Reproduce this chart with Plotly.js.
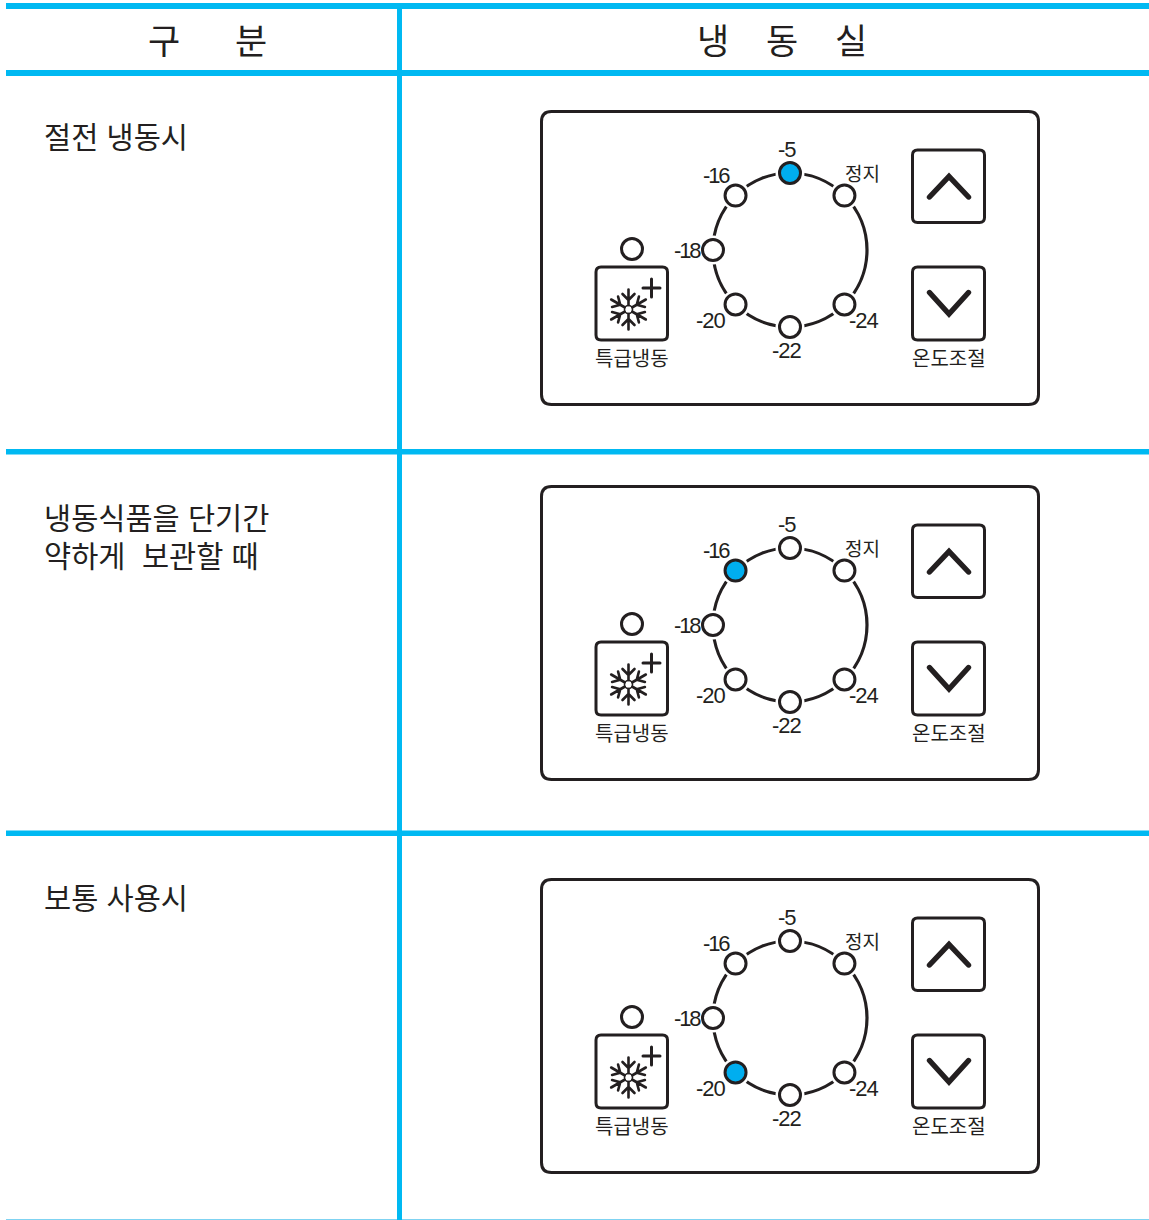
<!DOCTYPE html>
<html lang="ko"><head><meta charset="utf-8">
<script src="https://cdn.plot.ly/plotly-3.0.1.min.js"></script>
<style>html,body{margin:0;padding:0;background:#fff}#p{width:1149px;height:1220px}
.shapelayer path{stroke-linecap:round;stroke-linejoin:miter}</style></head>
<body><div id="p"></div>
<script>
// ---- content ----
const headerChars = ['구', '분', '냉', '동', '실'];
const headerX = [164, 251, 713, 782, 851];
const rowLabels = ['절전 냉동시', '냉동식품을 단기간<br>약하게  보관할 때', '보통 사용시'];
const rowLabelY = [135, 535, 896];
const panelOffsets = [0, 375, 768];
const dialLabels = ['-5', '정지', '-24', '-22', '-20', '-18', '-16'];
const dialAngles = [90, 45, -45, -90, -135, 180, 135];
const dialLabelX = [787, 862, 863.5, 786.5, 710.5, 687.5, 716];
const dialLabelY = [149, 172, 320, 350, 320, 250, 175];
const selected = ['-5', '-16', '-20'];
const extraFreezeLabel = '특급냉동';
const tempAdjustLabel = '온도조절';

// ---- styles ----
const BLUE = '#00b9f2', INK = '#231f20', LED = '#00aeef';
const FONT = '"Noto Sans CJK KR","Noto Sans",sans-serif';
const NUMFONT = '"Liberation Sans",Arial,sans-serif';
const cx = 790, cy = 250, R = 77;

const shapes = [], annotations = [], traces = [];
const rule = (x0, y0, x1, y1, c = BLUE) => shapes.push({type:'rect', layer:'below', x0, x1, y0, y1, fillcolor:c, line:{width:0}});
const rrect = (x0, y0, x1, y1, r, w) => shapes.push({type:'path', layer:'below', line:{color:INK, width:w}, fillcolor:'rgba(0,0,0,0)',
  path:`M${x0+r},${y0}L${x1-r},${y0}Q${x1},${y0} ${x1},${y0+r}L${x1},${y1-r}Q${x1},${y1} ${x1-r},${y1}L${x0+r},${y1}Q${x0},${y1} ${x0},${y1-r}L${x0},${y0+r}Q${x0},${y0} ${x0+r},${y0}Z`});
const stroke = (path, w) => shapes.push({type:'path', layer:'below', path, line:{color:INK, width:w}, fillcolor:'rgba(0,0,0,0)'});
const text = (x, y, t, size, anchor = 'center', family = FONT) => annotations.push({x, y, text:t, showarrow:false, xanchor:anchor, yanchor:'middle',
  font:{family, size, color:INK}, align:'left', xref:'x', yref:'y', borderpad:0});

// table rules
rule(6, 3, 1149, 9); rule(6, 70, 1149, 76); rule(6, 449, 1149, 454.5); rule(6, 830.5, 1149, 836);
rule(6, 1219, 1149, 1220, '#7fd3f2');
rule(397, 3, 402, 1220);

headerChars.forEach((c, i) => text(headerX[i], 38, c, 35));
rowLabels.forEach((t, i) => text(43, rowLabelY[i], t, 29.5, 'left'));

function snowflake(x, y, o) {
  const L = 20;
  for (let a = 0; a < 6; a++) {
    const t = a * Math.PI / 3 + Math.PI / 2, ux = Math.cos(t), uy = Math.sin(t), vx = -uy, vy = ux;
    const p = (d, s) => `${x + ux*d + vx*s},${y + o + uy*d + vy*s}`;
    stroke(`M${p(4.5,0)}L${p(L,0)}M${p(9.5,0)}L${p(15.5,6)}M${p(9.5,0)}L${p(15.5,-6)}`, 2.6);
  }
  shapes.push({type:'circle', layer:'below', x0:x-4, x1:x+4, y0:y+o-4, y1:y+o+4, line:{color:INK, width:1.6}});
}

panelOffsets.forEach((o, i) => {
  rrect(541.5, 111.5+o, 1038.5, 404.5+o, 10, 3);
  rrect(912.5, 150+o, 984.5, 222.5+o, 5, 3);
  rrect(912.5, 267+o, 984.5, 340+o, 5, 3);
  rrect(596, 267+o, 667.5, 340+o, 5, 3);
  stroke(`M929.5,${197+o}L949,${176.5+o}L968.5,${197+o}`, 5.4);
  stroke(`M929.5,${292.5+o}L949,${314+o}L968.5,${292.5+o}`, 5.4);
  stroke(`M651.5,${279+o}L651.5,${297+o}M643,${288+o}L660,${288+o}`, 3);
  snowflake(628.5, 309.5, o);
  shapes.push({type:'circle', layer:'below', x0:cx-R, x1:cx+R, y0:cy+o-R, y1:cy+o+R, line:{color:INK, width:3.2}});
  text(632, 357+o, extraFreezeLabel, 20);
  text(949, 357+o, tempAdjustLabel, 20);
  dialLabels.forEach((l, k) => {
    if (l === '정지') text(dialLabelX[k], dialLabelY[k]+o, l, 19);
    else {
      const ls = (l === '-16' || l === '-18') ? -2.2 : -1;
      text(dialLabelX[k], dialLabelY[k]+o, `<span style="letter-spacing:${ls}px">${l}</span>`, 22, 'center', NUMFONT);
    }
  });

  const xs = dialAngles.map(a => cx + R*Math.cos(a*Math.PI/180));
  const ys = dialAngles.map(a => cy + o - R*Math.sin(a*Math.PI/180));
  // white halo cutting the ring around each lamp
  traces.push({type:'scatter', mode:'markers', x:xs, y:ys, hoverinfo:'skip',
    marker:{size:29, color:'#fff', line:{width:0}}});
  traces.push({type:'scatter', mode:'markers', x:xs, y:ys, text:dialLabels, hoverinfo:'text',
    marker:{size:21, color:dialLabels.map(l => l === selected[i] ? LED : '#fff'), line:{color:INK, width:3}}});
  traces.push({type:'scatter', mode:'markers', x:[632], y:[249+o], text:[extraFreezeLabel], hoverinfo:'text',
    marker:{size:21, color:'#fff', line:{color:INK, width:3}}});
});

Plotly.newPlot('p', traces, {
  width:1149, height:1220, margin:{l:0,r:0,t:0,b:0}, showlegend:false,
  paper_bgcolor:'#fff', plot_bgcolor:'#fff',
  xaxis:{range:[0,1149], visible:false, fixedrange:true},
  yaxis:{range:[1220,0], visible:false, fixedrange:true},
  shapes, annotations
}, {displayModeBar:false, staticPlot:true});
</script></body></html>
